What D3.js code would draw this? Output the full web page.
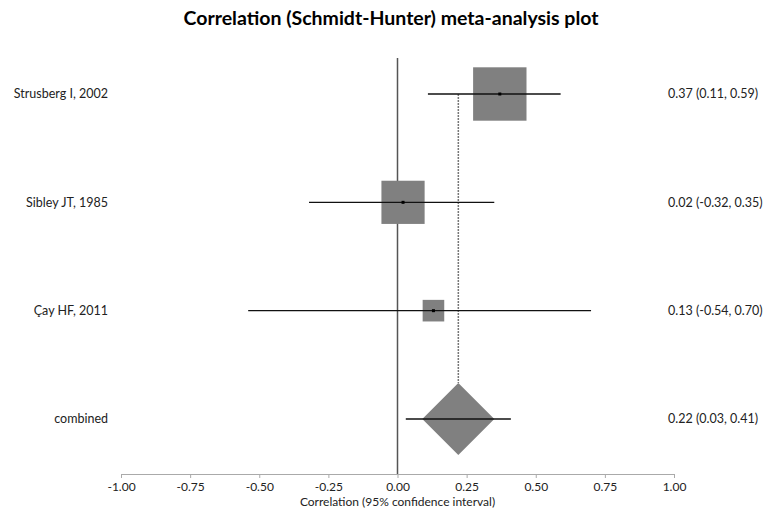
<!DOCTYPE html>
<style>
    body { margin: 0; background: #fff; }
    text { font-family: Lato, "Open Sans", sans-serif; fill: #222; }
    .title { font-weight: bold; font-size: 19.5px; fill: #000; }
    .lbl { font-size: 12.5px; }
</style>
<svg width="782" height="516"></svg>
<script src="https://d3js.org/d3.v7.min.js"></script>
<script>
    var studies = ["Strusberg I, 2002", "Sibley JT, 1985", "Çay HF, 2011"];
    var est = [0.37, 0.02, 0.13];
    var lower = [0.11, -0.32, -0.54];
    var upper = [0.59, 0.35, 0.70];
    var weights = [55, 36, 9];   // % weight
    var pooled = {label: "combined", est: 0.22, lower: 0.03, upper: 0.41, weight: 100};
    var ticks = [-1, -0.75, -0.5, -0.25, 0, 0.25, 0.5, 0.75, 1];

    var svg = d3.select('svg');
    var f2 = function(v) { return d3.format(".2f")(v).replace("\u2212", "-"); };

    var x = d3.scaleLinear().domain([-1, 1]).range([121, 674]);
    var rows = studies.concat([pooled.label]);
    var y = d3.scalePoint().domain(rows).range([94, 419]);
    var side = d3.scaleSqrt().domain([0, 100]).range([0, 72]);

    svg.append('text').attr('class', 'title')
        .attr('x', 391).attr('y', 25).attr('text-anchor', 'middle')
        .text("Correlation (Schmidt-Hunter) meta-analysis plot");

    // axis
    var axis = svg.append('g').attr('transform', 'translate(0,474)')
        .call(d3.axisBottom(x).tickValues(ticks).tickFormat(f2).tickSize(4).tickSizeOuter(4));
    axis.select('.domain').attr('stroke', '#aaa');
    axis.selectAll('.tick line').attr('stroke', '#aaa');
    axis.selectAll('.tick text').attr('y', 17).attr('dy', 0).style('font-size', '12px')
        .style('font-family', 'Lato, sans-serif').attr('fill', '#222');

    svg.append('text').attr('class', 'lbl')
        .attr('x', x(0)).attr('y', 506).attr('text-anchor', 'middle').style('font-size', '12px')
        .text("Correlation (95% confidence interval)");

    // zero line
    svg.append('line')
        .attr('x1', x(0)).attr('x2', x(0)).attr('y1', 58).attr('y2', 474)
        .attr('stroke', '#555').attr('stroke-width', 1.5);

    // pooled dashed line
    svg.append('line')
        .attr('x1', x(pooled.est)).attr('x2', x(pooled.est))
        .attr('y1', y(studies[0])).attr('y2', y(pooled.label) - side(pooled.weight) / 2)
        .attr('stroke', '#777').attr('stroke-width', 1.5).attr('stroke-dasharray', '2,1');

    var data = studies.map(function(s, i) {
        return {label: s, est: est[i], lower: lower[i], upper: upper[i], weight: weights[i]};
    });

    var g = svg.selectAll('g.study').data(data).enter().append('g').attr('class', 'study');
    g.append('rect')
        .attr('x', function(d) { return x(d.est) - side(d.weight) / 2; })
        .attr('y', function(d) { return y(d.label) - side(d.weight) / 2; })
        .attr('width', function(d) { return side(d.weight); })
        .attr('height', function(d) { return side(d.weight); })
        .attr('fill', '#808080');
    g.append('line')
        .attr('x1', function(d) { return x(d.lower); })
        .attr('x2', function(d) { return x(d.upper); })
        .attr('y1', function(d) { return y(d.label); })
        .attr('y2', function(d) { return y(d.label); })
        .attr('stroke', '#111').attr('stroke-width', 1.3);
    g.append('rect')
        .attr('x', function(d) { return x(d.est) - 1.5; })
        .attr('y', function(d) { return y(d.label) - 1.5; })
        .attr('width', 3).attr('height', 3).attr('fill', '#000');

    // pooled diamond
    var h = side(pooled.weight) / 2, cx = x(pooled.est), cy = y(pooled.label);
    svg.append('path')
        .attr('d', "M" + cx + "," + (cy - h) + "L" + (cx + h) + "," + cy + "L" + cx + "," + (cy + h) + "L" + (cx - h) + "," + cy + "Z")
        .attr('fill', '#808080');
    svg.append('line')
        .attr('x1', x(pooled.lower)).attr('x2', x(pooled.upper)).attr('y1', cy).attr('y2', cy)
        .attr('stroke', '#111').attr('stroke-width', 1.3);

    var all = data.concat([pooled]);
    svg.selectAll('text.left').data(all).enter().append('text').attr('class', 'lbl left')
        .attr('x', 108).attr('y', function(d) { return y(d.label); }).attr('dy', '0.35em')
        .attr('text-anchor', 'end').text(function(d) { return d.label; });
    svg.selectAll('text.right').data(all).enter().append('text').attr('class', 'lbl right')
        .attr('x', 668).attr('y', function(d) { return y(d.label); }).attr('dy', '0.35em')
        .text(function(d) { return f2(d.est) + " (" + f2(d.lower) + ", " + f2(d.upper) + ")"; });
</script>
